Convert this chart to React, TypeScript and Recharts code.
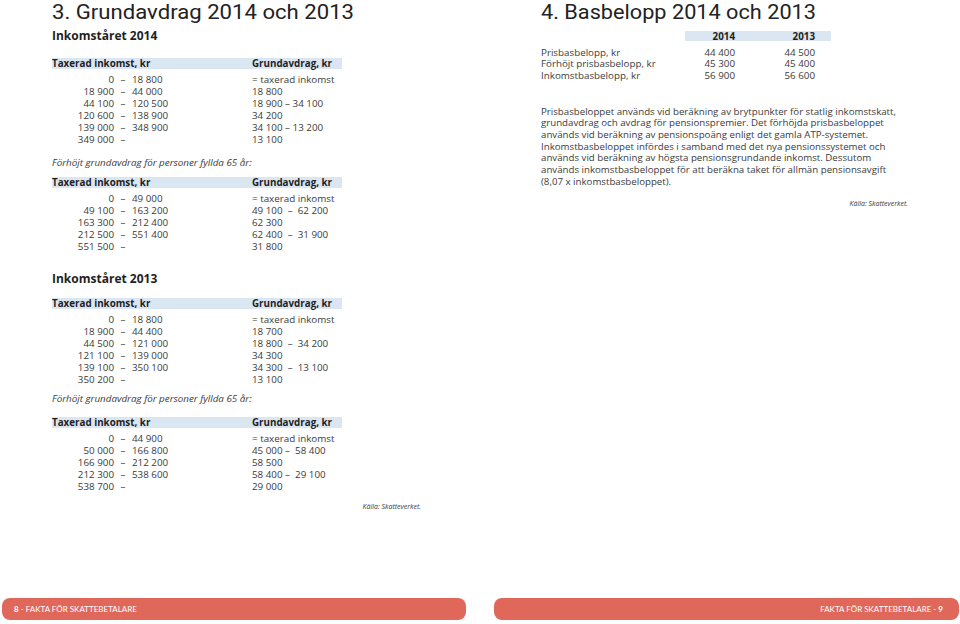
import React from 'react';
import { Surface, Layer, Rectangle } from 'recharts';

// Inkomståret 2014
const from2014 = ['0', '18 900', '44 100', '120 600', '139 000', '349 000'];
const to2014 = ['18 800', '44 000', '120 500', '138 900', '348 900', ''];
const deduction2014 = ['= taxerad inkomst', '18 800', '18 900 – 34 100', '34 200', '34 100 – 13 200', '13 100'];

const fromSenior2014 = ['0', '49 100', '163 300', '212 500', '551 500'];
const toSenior2014 = ['49 000', '163 200', '212 400', '551 400', ''];
const deductionSenior2014 = ['= taxerad inkomst', '49 100  –  62 200', '62 300', '62 400  –  31 900', '31 800'];

// Inkomståret 2013
const from2013 = ['0', '18 900', '44 500', '121 100', '139 100', '350 200'];
const to2013 = ['18 800', '44 400', '121 000', '139 000', '350 100', ''];
const deduction2013 = ['= taxerad inkomst', '18 700', '18 800  –  34 200', '34 300', '34 300  –  13 100', '13 100'];

const fromSenior2013 = ['0', '50 000', '166 900', '212 300', '538 700'];
const toSenior2013 = ['44 900', '166 800', '212 200', '538 600', ''];
const deductionSenior2013 = ['= taxerad inkomst', '45 000 –  58 400', '58 500', '58 400 –  29 100', '29 000'];

// Basbelopp
const baseLabels = ['Prisbasbelopp, kr', 'Förhöjt prisbasbelopp, kr', 'Inkomstbasbelopp, kr'];
const base2014 = ['44 400', '45 300', '56 900'];
const base2013 = ['44 500', '45 400', '56 600'];

const paragraph = [
  'Prisbasbeloppet används vid beräkning av brytpunkter för statlig inkomstskatt,',
  'grundavdrag och avdrag för pensionspremier. Det förhöjda prisbasbeloppet',
  'används vid beräkning av pensionspoäng enligt det gamla ATP-systemet.',
  'Inkomstbasbeloppet infördes i samband med det nya pensionssystemet och',
  'används vid beräkning av högsta pensionsgrundande inkomst. Dessutom',
  'används inkomstbasbeloppet för att beräkna taket för allmän pensionsavgift',
  '(8,07 x inkomstbasbeloppet).',
];

const FONT = '"Open Sans", sans-serif';
const TEXT = '#3b3b3b';
const HEAD = '#1f1f1f';
const BAND = '#dbe6f3';
const RED = '#e0685b';
const BODY = 9.8;
const ROW = 12;
const BL = 3.5; // offset from visual centre to baseline

function TableBlock({ top, from, to, deduction }: { top: number; from: string[]; to: string[]; deduction: string[] }) {
  return (
    <Layer>
      <Rectangle x={52} y={top} width={290} height={11} fill={BAND} />
      <text x={52} y={top + 5.5 + BL} fontFamily={FONT} fontWeight={700} fontSize={BODY} fill={HEAD}>
        Taxerad inkomst, kr
      </text>
      <text x={252} y={top + 5.5 + BL} fontFamily={FONT} fontWeight={700} fontSize={BODY} fill={HEAD}>
        Grundavdrag, kr
      </text>
      {from.map((f, i) => {
        const y = top + 21.5 + i * ROW + BL;
        return (
          <g key={i} fontFamily={FONT} fontSize={BODY} fill={TEXT}>
            <text x={114} y={y} textAnchor="end">{f}</text>
            <text x={123} y={y} textAnchor="middle">–</text>
            <text x={132} y={y}>{to[i]}</text>
            <text x={252} y={y} style={{ whiteSpace: 'pre' }}>{deduction[i]}</text>
          </g>
        );
      })}
    </Layer>
  );
}

export default function App() {
  return (
    <div style={{ position: 'absolute', left: 0, top: 0, width: 960, height: 624, background: '#fff' }}>
      <Surface width={960} height={624} viewBox={{ x: 0, y: 0, width: 960, height: 624 }}>
        {/* left page */}
        <text x={52} y={19} fontFamily="Roboto, sans-serif" fontSize={21} fill="#222" textLength={302} lengthAdjust="spacingAndGlyphs">
          3. Grundavdrag 2014 och 2013
        </text>
        <text x={52} y={40} fontFamily={FONT} fontWeight={700} fontSize={12} fill={HEAD}>
          Inkomståret 2014
        </text>
        <TableBlock top={58} from={from2014} to={to2014} deduction={deduction2014} />
        <text x={52} y={162 + BL} fontFamily={FONT} fontStyle="italic" fontSize={BODY} fill={TEXT}>
          Förhöjt grundavdrag för personer fyllda 65 år:
        </text>
        <TableBlock top={177} from={fromSenior2014} to={toSenior2014} deduction={deductionSenior2014} />

        <text x={52} y={283} fontFamily={FONT} fontWeight={700} fontSize={12} fill={HEAD}>
          Inkomståret 2013
        </text>
        <TableBlock top={298} from={from2013} to={to2013} deduction={deduction2013} />
        <text x={52} y={398 + BL} fontFamily={FONT} fontStyle="italic" fontSize={BODY} fill={TEXT}>
          Förhöjt grundavdrag för personer fyllda 65 år:
        </text>
        <TableBlock top={417} from={fromSenior2013} to={toSenior2013} deduction={deductionSenior2013} />
        <text x={421} y={509} textAnchor="end" fontFamily={FONT} fontStyle="italic" fontSize={7} fill={TEXT}>
          Källa: Skatteverket.
        </text>

        {/* right page */}
        <text x={541} y={19} fontFamily="Roboto, sans-serif" fontSize={21} fill="#222" textLength={275} lengthAdjust="spacingAndGlyphs">
          4. Basbelopp 2014 och 2013
        </text>
        <Rectangle x={685} y={31} width={146} height={10} fill={BAND} />
        <text x={735} y={36 + BL} textAnchor="end" fontFamily={FONT} fontWeight={700} fontSize={BODY} fill={HEAD}>2014</text>
        <text x={815} y={36 + BL} textAnchor="end" fontFamily={FONT} fontWeight={700} fontSize={BODY} fill={HEAD}>2013</text>
        {baseLabels.map((l, i) => {
          const y = 52 + i * 11.5 + BL;
          return (
            <g key={l} fontFamily={FONT} fontSize={BODY} fill={TEXT}>
              <text x={541} y={y}>{l}</text>
              <text x={735} y={y} textAnchor="end">{base2014[i]}</text>
              <text x={815} y={y} textAnchor="end">{base2013[i]}</text>
            </g>
          );
        })}
        {paragraph.map((line, i) => (
          <text key={i} x={541} y={111 + i * 11.7 + BL} fontFamily={FONT} fontSize={9.7} fill={TEXT}>
            {line}
          </text>
        ))}
        <text x={908} y={206} textAnchor="end" fontFamily={FONT} fontStyle="italic" fontSize={7} fill={TEXT}>
          Källa: Skatteverket.
        </text>

        {/* footer */}
        <Rectangle x={2} y={598} width={464} height={22} radius={8} fill={RED} />
        <text x={14} y={612} fontFamily="Lato, sans-serif" fontSize={8} fill="#fff">
          <tspan fontWeight={700}>8</tspan> - FAKTA FÖR SKATTEBETALARE
        </text>
        <Rectangle x={494} y={598} width={465} height={22} radius={8} fill={RED} />
        <text x={943} y={612} textAnchor="end" fontFamily="Lato, sans-serif" fontSize={8} fill="#fff">
          FAKTA FÖR SKATTEBETALARE - <tspan fontWeight={700}>9</tspan>
        </text>
      </Surface>
    </div>
  );
}
